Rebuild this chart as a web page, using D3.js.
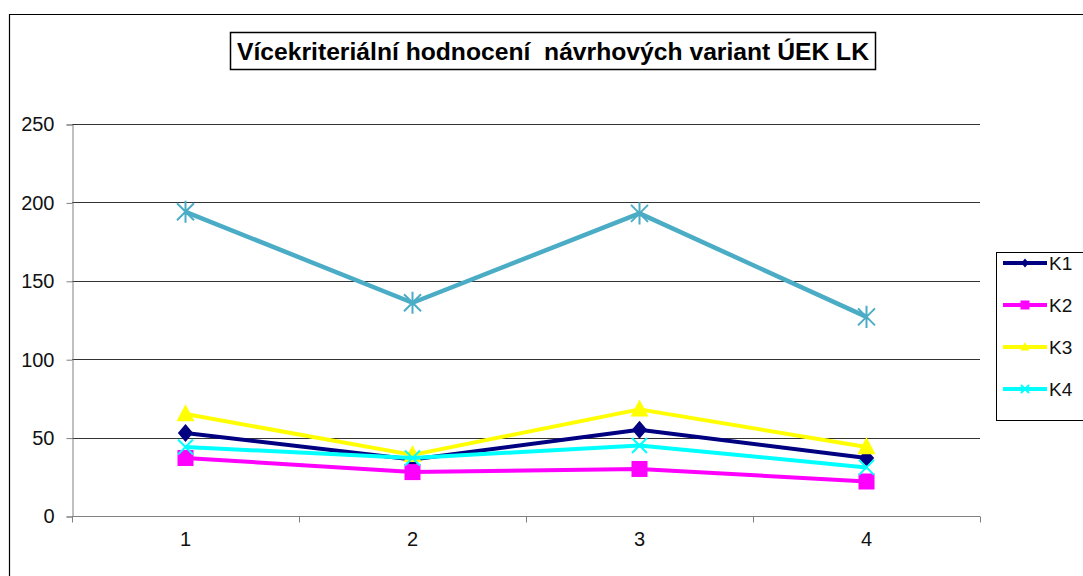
<!DOCTYPE html>
<html>
<head>
<meta charset="utf-8">
<script src="https://cdn.jsdelivr.net/npm/d3@7"></script>
<style>
  html, body { margin: 0; padding: 0; background: #fff; }
  svg { display: block; font-family: "Liberation Sans", Arial, sans-serif; }
</style>
</head>
<body>
<svg id="chart" width="1083" height="576"></svg>
<script>
// Categories (variants) and criterion values
const categories = ["1", "2", "3", "4"];
const seriesNames = ["K1", "K2", "K3", "K4", "K5"];
const valuesK1 = [53, 36, 55, 37];
const valuesK2 = [37, 28, 30, 22];
const valuesK3 = [65, 39, 68, 44];
const valuesK4 = [44, 37, 45, 31];
const valuesK5 = [194, 136, 193, 127];
const yTicks = [0, 50, 100, 150, 200, 250];
const legendNames = ["K1", "K2", "K3", "K4"];
const titleText = "Vícekriteriální hodnocení  návrhových variant ÚEK LK";

const seriesValues = [valuesK1, valuesK2, valuesK3, valuesK4, valuesK5];
const styles = {
  K1: { color: "#000080", marker: "diamond", width: 4 },
  K2: { color: "#ff00ff", marker: "square", width: 4 },
  K3: { color: "#ffff00", marker: "triangle", width: 4 },
  K4: { color: "#00ffff", marker: "x", width: 4 },
  K5: { color: "#4bacc6", marker: "star", width: 4.5 }
};

const svg = d3.select("#chart");
svg.append("rect").attr("width", 1083).attr("height", 576).attr("fill", "#fff");

// outer chart frame
svg.append("path").attr("d", "M9.5,576V14.5H1083")
  .attr("fill", "none").attr("stroke", "#000").attr("stroke-width", 1.2);

// title box
const title = svg.append("g");
title.append("rect").attr("x", 230.5).attr("y", 32.5).attr("width", 645).attr("height", 37)
  .attr("fill", "#fff").attr("stroke", "#000").attr("stroke-width", 1.5);
title.append("text").attr("x", 553).attr("y", 60).attr("text-anchor", "middle")
  .attr("font-size", 24).attr("font-weight", "bold").style("white-space", "pre")
  .attr("textLength", 632).attr("lengthAdjust", "spacingAndGlyphs")
  .text(titleText);

const x = d3.scaleBand().domain(categories).range([72, 980]).padding(0);
const y = d3.scaleLinear().domain([0, 250]).range([516, 124]);

// horizontal gridlines
svg.append("g").selectAll("line").data(yTicks.filter(d => d > 0)).join("line")
  .attr("x1", 72).attr("x2", 980)
  .attr("y1", d => Math.round(y(d)) + 0.5).attr("y2", d => Math.round(y(d)) + 0.5)
  .attr("stroke", "#333").attr("stroke-width", 1.2);

// y axis
const yAxis = svg.append("g").attr("transform", "translate(72.5,0.5)")
  .call(d3.axisLeft(y).tickValues(yTicks).tickSize(6).tickPadding(12));
yAxis.select(".domain").attr("stroke", "#808080");
yAxis.selectAll(".tick line").attr("stroke", "#808080");
yAxis.selectAll(".tick text").attr("font-size", 20).attr("fill", "#111")
  .attr("font-family", "Liberation Sans, Arial, sans-serif");

// x axis with tick marks between categories
const xAxisG = svg.append("g").attr("transform", "translate(0,516.5)");
xAxisG.append("line").attr("x1", 72).attr("x2", 980).attr("stroke", "#808080");
const boundaries = categories.map(c => x(c)).concat([x(categories[categories.length - 1]) + x.bandwidth()]);
xAxisG.selectAll("line.tk").data(boundaries).join("line").attr("class", "tk")
  .attr("x1", d => Math.round(d) + 0.5).attr("x2", d => Math.round(d) + 0.5)
  .attr("y1", 0).attr("y2", 6).attr("stroke", "#808080");
xAxisG.selectAll("text").data(categories).join("text")
  .attr("x", d => x(d) + x.bandwidth() / 2).attr("y", 29)
  .attr("text-anchor", "middle").attr("font-size", 20).attr("fill", "#111")
  .text(d => d);

// marker shapes
function drawMarker(g, type, color, s) {
  if (type === "diamond") {
    g.append("path").attr("d", `M0,${-s}L${s * 0.85},0L0,${s}L${-s * 0.85},0Z`).attr("fill", color);
  } else if (type === "square") {
    g.append("rect").attr("x", -s).attr("y", -s).attr("width", 2 * s).attr("height", 2 * s).attr("fill", color);
  } else if (type === "triangle") {
    g.append("path").attr("d", `M0,${-s * 1.1}L${s},${s * 0.8}L${-s},${s * 0.8}Z`).attr("fill", color);
  } else if (type === "x") {
    g.append("path").attr("d", `M${-s},${-s}L${s},${s}M${-s},${s}L${s},${-s}`)
      .attr("stroke", color).attr("stroke-width", 2).attr("fill", "none");
  } else if (type === "star") {
    g.append("path").attr("d", `M${-s},${-s}L${s},${s}M${-s},${s}L${s},${-s}M0,${-s * 1.3}L0,${s * 1.3}`)
      .attr("stroke", color).attr("stroke-width", 2).attr("fill", "none");
  }
}
const markerSize = { diamond: 9, square: 8, triangle: 9, x: 7.5, star: 8.5 };

const line = d3.line().x((d, i) => x(categories[i]) + x.bandwidth() / 2).y(d => y(d));

const plot = svg.append("g");
seriesNames.forEach((name, si) => {
  const st = styles[name];
  const vals = seriesValues[si];
  const g = plot.append("g");
  g.append("path").datum(vals).attr("d", line).attr("fill", "none")
    .attr("stroke", st.color).attr("stroke-width", st.width).attr("stroke-linejoin", "round");
  vals.forEach((v, i) => {
    const m = g.append("g").attr("transform", `translate(${x(categories[i]) + x.bandwidth() / 2},${y(v)})`);
    drawMarker(m, st.marker, st.color, markerSize[st.marker]);
  });
});

// legend
const legend = svg.append("g");
legend.append("rect").attr("x", 996.5).attr("y", 252.5).attr("width", 120).attr("height", 168)
  .attr("fill", "#fff").attr("stroke", "#000").attr("stroke-width", 1);
legendNames.forEach((name, i) => {
  const st = styles[name];
  const cy = 263 + i * 42;
  const item = legend.append("g").attr("transform", `translate(0,${cy})`);
  item.append("line").attr("x1", 1003).attr("x2", 1047).attr("stroke", st.color).attr("stroke-width", 4);
  const m = item.append("g").attr("transform", "translate(1025,0)");
  drawMarker(m, st.marker, st.color, st.marker === "x" ? 4 : 4.5);
  item.append("text").attr("x", 1049).attr("y", 7).attr("font-size", 19).attr("fill", "#111").text(name);
});
</script>
</body>
</html>
